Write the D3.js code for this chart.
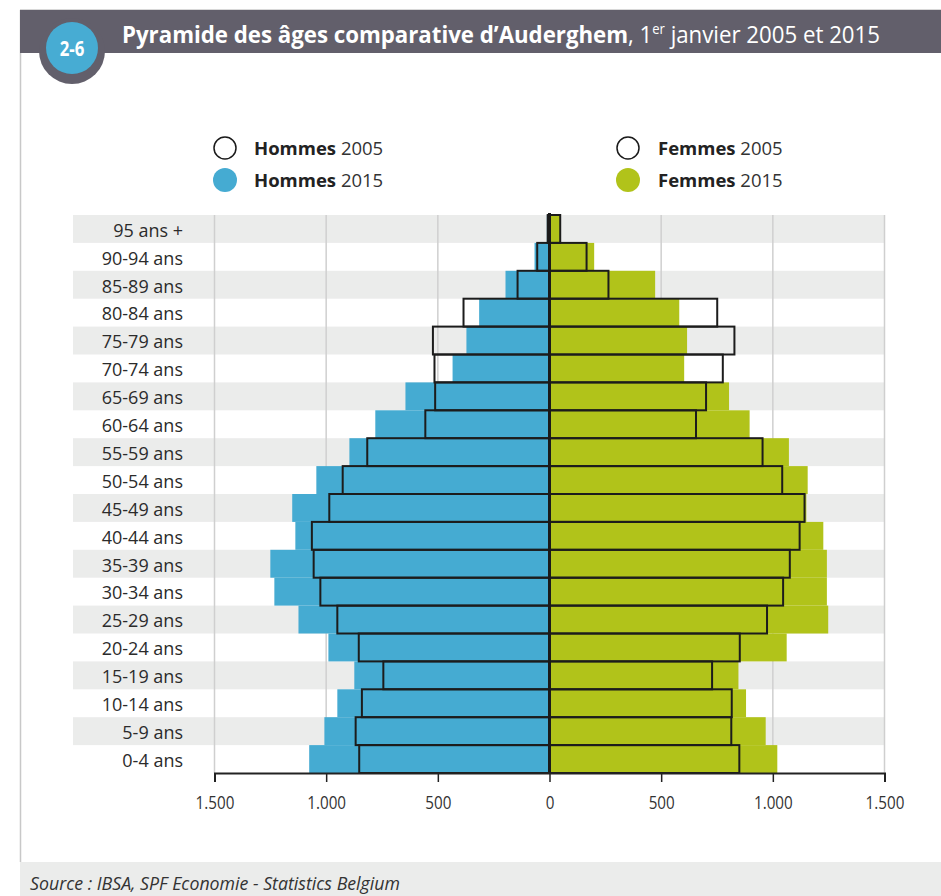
<!DOCTYPE html>
<html><head><meta charset="utf-8">
<script src="https://cdnjs.cloudflare.com/ajax/libs/d3/7.8.5/d3.min.js"></script>
<style>
html,body{margin:0;padding:0;background:#fff;}
svg{display:block;font-family:"Open Sans",sans-serif;}
</style></head>
<body><svg id="c" width="941" height="896"></svg>
<script>
const categories = ["95 ans +","90-94 ans","85-89 ans","80-84 ans","75-79 ans","70-74 ans","65-69 ans","60-64 ans","55-59 ans","50-54 ans","45-49 ans","40-44 ans","35-39 ans","30-34 ans","25-29 ans","20-24 ans","15-19 ans","10-14 ans","5-9 ans","0-4 ans"];
const hommes2015 = [12, 67, 197, 315, 372, 434, 645, 780, 896, 1044, 1152, 1138, 1250, 1232, 1124, 990, 874, 950, 1008, 1076];
const hommes2005 = [8, 55, 143, 385, 522, 515, 512, 556, 816, 926, 986, 1064, 1056, 1026, 950, 854, 744, 840, 868, 852];
const femmes2015 = [50, 200, 473, 581, 616, 603, 804, 896, 1072, 1156, 1150, 1226, 1242, 1242, 1248, 1062, 846, 880, 968, 1020];
const femmes2005 = [48, 166, 264, 751, 828, 776, 701, 656, 954, 1042, 1142, 1120, 1076, 1046, 974, 852, 728, 816, 814, 850];
const tickValues = [-1500,-1000,-500,0,500,1000,1500];
const legendItems = [
  {bold:"Hommes", year:"2005", side:"h", filled:false},
  {bold:"Hommes", year:"2015", side:"h", filled:true},
  {bold:"Femmes", year:"2005", side:"f", filled:false},
  {bold:"Femmes", year:"2015", side:"f", filled:true}
];

const BLUE="#45abd2", GREEN="#b1c31a", DARK="#625f6b", STRIPE="#ebeceb";
const svg = d3.select("#c");
const W=941;

// frame
svg.append("line").attr("x1",20.5).attr("x2",20.5).attr("y1",10).attr("y2",862).attr("stroke","#c8c8c8").attr("stroke-width",1.5);
svg.append("rect").attr("x",20).attr("y",10).attr("width",W-20).attr("height",43).attr("fill",DARK);
svg.append("line").attr("x1",20).attr("x2",W).attr("y1",9.5).attr("y2",9.5).attr("stroke","#d8d8d8");

// badge
svg.append("circle").attr("cx",72).attr("cy",51).attr("r",33).attr("fill",DARK);
svg.append("circle").attr("cx",72).attr("cy",48).attr("r",26).attr("fill","#47acd3");
svg.append("text").attr("x",72).attr("y",56).attr("text-anchor","middle").attr("fill","#fff")
  .attr("font-weight","bold").attr("font-size",21).attr("font-family","Open Sans").attr("transform","translate(72,0) scale(0.8,1) translate(-72,0)").text("2-6");

// title
const title = svg.append("text").attr("x",122).attr("y",43).attr("fill","#fff").attr("font-size",24);
title.append("tspan").attr("font-weight","bold").text("Pyramide des âges comparative d’Auderghem");
title.append("tspan").text(", 1");
title.append("tspan").attr("font-size",14).attr("dy",-9).text("er");
title.append("tspan").attr("dy",9).text(" janvier 2005 et 2015");
title.attr("textLength",758).attr("lengthAdjust","spacingAndGlyphs");

// scales
const x = d3.scaleLinear().domain([-1500,1500]).range([214.5,884.5]);
const y = d3.scaleBand().domain(categories).range([215,773]).padding(0);
const g = svg.append("g");

// stripes
categories.forEach((c,i)=>{
  if(i%2===0) g.append("rect").attr("x",73).attr("y",y(c)).attr("width",884.5-73).attr("height",y.bandwidth()).attr("fill",STRIPE);
});
// grid
g.selectAll(".grid").data(tickValues).join("line").attr("class","grid")
  .attr("x1",d=>x(d)).attr("x2",d=>x(d)).attr("y1",215).attr("y2",773)
  .attr("stroke","#cfcfcf").attr("stroke-width",1.5);

// labels
g.selectAll(".cat").data(categories).join("text").attr("class","cat")
  .attr("x",183).attr("y",d=>y(d)+y.bandwidth()/2+1.5).attr("dy","0.35em")
  .attr("text-anchor","end").attr("font-size",18).attr("fill","#2b2b2b").text(d=>d);

// bars 2015
g.selectAll(".h15").data(hommes2015).join("rect").attr("class","h15")
  .attr("x",d=>x(-d)).attr("y",(d,i)=>y(categories[i])).attr("width",d=>x(0)-x(-d)).attr("height",y.bandwidth()).attr("fill",BLUE);
g.selectAll(".f15").data(femmes2015).join("rect").attr("class","f15")
  .attr("x",x(0)).attr("y",(d,i)=>y(categories[i])).attr("width",d=>x(d)-x(0)).attr("height",y.bandwidth()).attr("fill",GREEN);
// outlines 2005
g.selectAll(".h05").data(hommes2005).join("rect").attr("class","h05")
  .attr("x",d=>x(-d)).attr("y",(d,i)=>y(categories[i])).attr("width",d=>x(0)-x(-d)).attr("height",y.bandwidth())
  .attr("fill","none").attr("stroke","#1c1c1c").attr("stroke-width",2);
g.selectAll(".f05").data(femmes2005).join("rect").attr("class","f05")
  .attr("x",x(0)).attr("y",(d,i)=>y(categories[i])).attr("width",d=>x(d)-x(0)).attr("height",y.bandwidth())
  .attr("fill","none").attr("stroke","#1c1c1c").attr("stroke-width",2);

// center line
g.append("line").attr("x1",x(0)).attr("x2",x(0)).attr("y1",213).attr("y2",773).attr("stroke","#1a1a1a").attr("stroke-width",3);

// axis
const loc = d3.formatLocale({decimal:",",thousands:".",grouping:[3],currency:["",""]});
const fmt = loc.format(",");
const axis = d3.axisBottom(x).tickValues(tickValues).tickSize(9).tickPadding(14).tickFormat(d=>fmt(Math.abs(d)));
const ag = svg.append("g").attr("transform","translate(0,773)").call(axis);
ag.select(".domain").attr("stroke","#222").attr("stroke-width",2);
ag.selectAll(".tick line").attr("stroke","#222").attr("stroke-width",1.5);
ag.selectAll(".tick text").attr("font-size",19).attr("font-family","Open Sans").attr("fill","#333")
  .each(function(){const t=d3.select(this); t.attr("textLength",this.getComputedTextLength()*0.8).attr("lengthAdjust","spacingAndGlyphs");});

// legend
const lx = {h:[225,254], f:[628,658]};
const ly = {"2005":148, "2015":180};
legendItems.forEach(it=>{
  const cx=lx[it.side][0], tx=lx[it.side][1], cy=ly[it.year];
  svg.append("circle").attr("cx",cx).attr("cy",cy).attr("r",it.filled?12:11)
    .attr("fill",it.filled?(it.side==="h"?BLUE:GREEN):"#fff")
    .attr("stroke",it.filled?"none":"#1a1a1a").attr("stroke-width",1.5);
  const t=svg.append("text").attr("x",tx).attr("y",cy+7).attr("font-size",18.5).attr("fill","#222");
  t.append("tspan").attr("font-weight","bold").text(it.bold);
  t.append("tspan").attr("fill","#333").text(" "+it.year);
});

// source
svg.append("rect").attr("x",20).attr("y",862).attr("width",W-20).attr("height",34).attr("fill",STRIPE);
svg.append("text").attr("x",30).attr("y",890).attr("font-size",18).attr("font-style","italic").attr("fill","#333")
  .attr("textLength",370).attr("lengthAdjust","spacingAndGlyphs")
  .text("Source : IBSA, SPF Economie - Statistics Belgium");
</script></body></html>
